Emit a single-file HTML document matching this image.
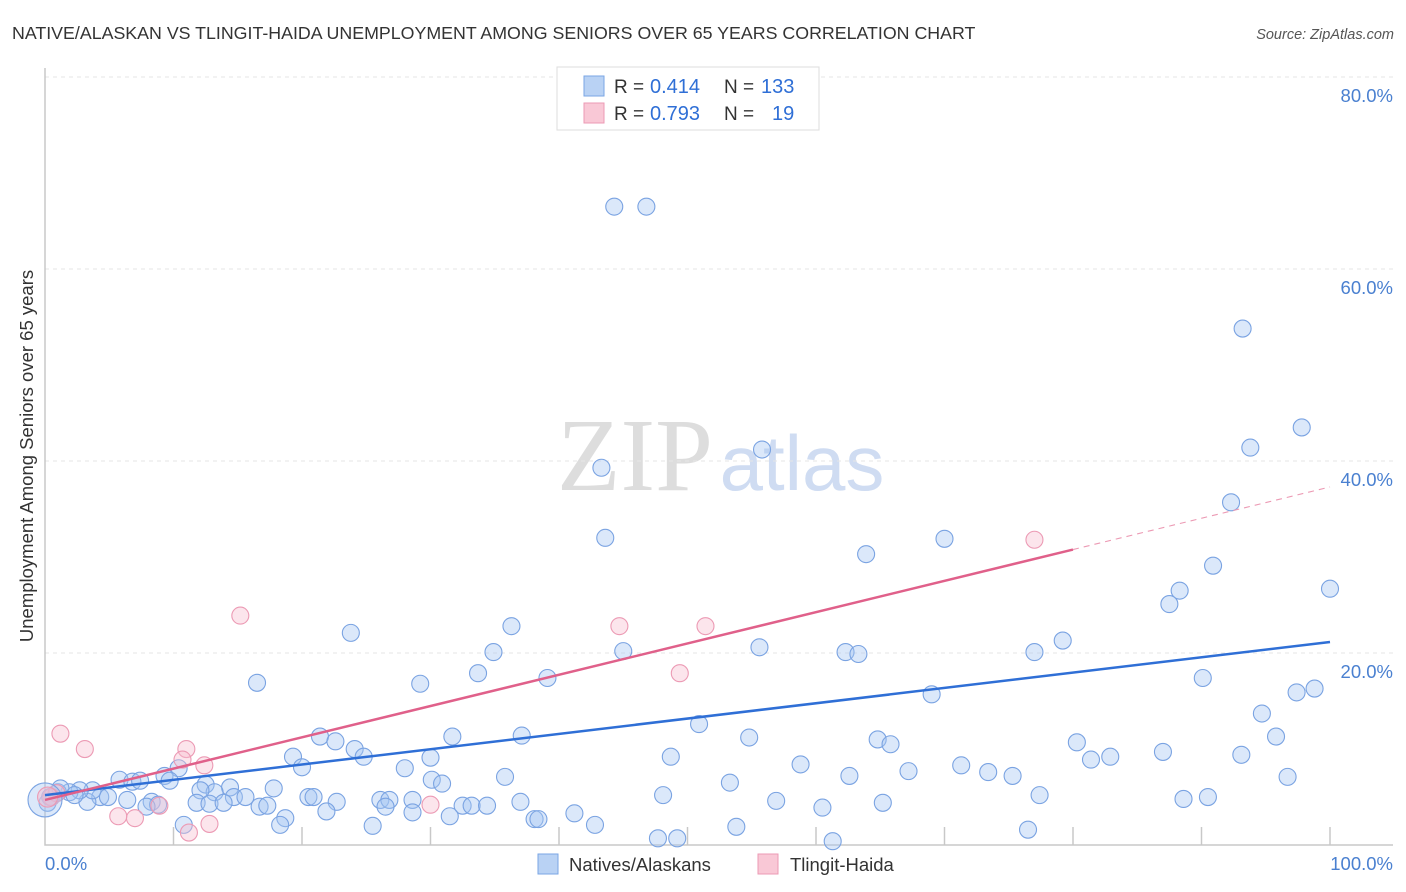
<!DOCTYPE html>
<html><head><meta charset="utf-8"><style>
body{margin:0;background:#fff;font-family:"Liberation Sans",sans-serif;}
svg{display:block}
</style></head><body>
<svg id="chart" width="1406" height="892">
<text x="12" y="39" font-size="17.8" fill="#333">NATIVE/ALASKAN VS TLINGIT-HAIDA UNEMPLOYMENT AMONG SENIORS OVER 65 YEARS CORRELATION CHART</text>
<text x="1394" y="39" font-size="14.5" fill="#555" font-style="italic" text-anchor="end">Source: ZipAtlas.com</text>
<text x="635" y="490" font-size="104" fill="#ddd" font-family="Liberation Serif" text-anchor="middle">ZIP</text>
<text x="802" y="490" font-size="78" fill="#cfdcf2" text-anchor="middle">atlas</text>
<g id="grid"></g><g id="pts"></g><g id="lines"></g>
<text transform="translate(33,456) rotate(-90)" font-size="18.5" fill="#333" text-anchor="middle">Unemployment Among Seniors over 65 years</text>
<g>
<rect x="557" y="67" width="262" height="63" fill="#fff" stroke="#ddd"/>
<rect x="584" y="76" width="20" height="20" fill="#b9d2f4" stroke="#7aa6e4"/>
<rect x="584" y="103" width="20" height="20" fill="#f9c8d6" stroke="#ec9ab4"/>
<text x="614" y="93" font-size="19" fill="#333">R =</text>
<text x="650" y="93" font-size="20" fill="#2f6fd6">0.414</text>
<text x="724" y="93" font-size="19" fill="#333">N =</text>
<text x="761" y="93" font-size="20" fill="#2f6fd6">133</text>
<text x="614" y="120" font-size="19" fill="#333">R =</text>
<text x="650" y="120" font-size="20" fill="#2f6fd6">0.793</text>
<text x="724" y="120" font-size="19" fill="#333">N =</text>
<text x="772" y="120" font-size="20" fill="#2f6fd6">19</text>
</g>
<g>
<rect x="538" y="854" width="20" height="20" fill="#b9d2f4" stroke="#7aa6e4"/>
<text x="569" y="871" font-size="18.5" fill="#333">Natives/Alaskans</text>
<rect x="758" y="854" width="20" height="20" fill="#f9c8d6" stroke="#ec9ab4"/>
<text x="790" y="871" font-size="18.5" fill="#333">Tlingit-Haida</text>
</g>
</svg>
<script>
const yTicks=[20,40,60,80];
const yTickLabels=["20.0%","40.0%","60.0%","80.0%"];
const xTickLabels=["0.0%","100.0%"];
const blueX=[44.3,46.8,93.2,97.8,93.8,55.8,43.3,92.3,43.6,70.0,63.9,90.9,88.3,100,87.5,23.8,36.3,79.2,55.6,34.9,45.0,62.3,63.3,77.0,33.7,39.1,16.5,29.2,90.1,98.8,97.4,69.0,94.7,50.9,21.4,22.6,31.7,37.1,54.8,64.8,65.8,95.8,80.3,24.1,19.3,24.8,30.0,48.7,87.0,93.1,81.4,82.9,20.0,28.0,58.8,71.3,67.2,73.4,75.3,62.6,35.8,96.7,10.4,9.3,30.1,30.9,53.3,17.8,14.4,12.5,9.7,5.8,6.8,7.4,14.7,15.6,13.2,12.1,48.1,77.4,20.5,20.9,22.7,26.1,26.8,28.6,37.0,56.9,65.2,88.6,90.5,6.4,8.3,8.8,11.8,12.8,13.9,16.7,17.3,7.9,4.3,4.9,3.3,3.7,2.7,1.9,1.0,0.4,1.2,2.3,21.9,26.5,28.6,32.5,33.2,34.4,31.5,38.1,38.4,41.2,60.5,18.7,18.3,25.5,42.8,53.8,76.5,47.7,49.2,61.3,10.8,0.2];
const blueY=[66.6,66.6,53.9,43.6,41.5,41.3,39.4,35.8,32.1,32.0,30.4,29.2,26.6,26.8,25.2,22.2,22.9,21.4,20.7,20.2,20.3,20.2,20.0,20.2,18.0,17.5,17.0,16.9,17.5,16.4,16.0,15.8,13.8,12.7,11.4,10.9,11.4,11.5,11.3,11.1,10.6,11.4,10.8,10.1,9.3,9.3,9.2,9.3,9.8,9.5,9.0,9.3,8.2,8.1,8.5,8.4,7.8,7.7,7.3,7.3,7.2,7.2,8.1,7.3,6.9,6.5,6.6,6.0,6.1,6.4,6.8,6.9,6.7,6.8,5.1,5.1,5.6,5.8,5.3,5.3,5.1,5.1,4.6,4.8,4.8,4.8,4.6,4.7,4.5,4.9,5.1,4.8,4.6,4.3,4.5,4.4,4.5,4.1,4.2,4.1,5.1,5.1,4.6,5.8,5.8,5.6,5.6,5.1,6.0,5.3,3.6,4.1,3.5,4.2,4.2,4.2,3.1,2.8,2.8,3.4,4.0,2.9,2.2,2.1,2.2,2.0,1.7,0.8,0.8,0.5,2.2,4.5];
const pinkX=[15.2,1.2,3.1,11.0,10.7,12.4,44.7,51.4,49.4,77.0,30.0,8.9,7.0,5.7,12.8,11.2,0.5,0.9];
const pinkY=[24.0,11.7,10.1,10.1,9.0,8.4,22.9,22.9,18.0,31.9,4.3,4.2,2.9,3.1,2.3,1.4,5.1,5.5];
const blueLine=[5.3,21.25];
const pinkLine=[4.8,37.4];
const pinkSolidEnd=80;

const X0=45,X1=1330,Y0=846,PY=9.6;
const sx=v=>X0+(X1-X0)*v/100, sy=v=>Y0-v*PY;
const NS="http://www.w3.org/2000/svg";
function mk(t,a,p){const e=document.createElementNS(NS,t);for(const k in a)e.setAttribute(k,a[k]);p.appendChild(e);return e;}
const grid=document.getElementById('grid'),pts=document.getElementById('pts'),lines=document.getElementById('lines');
yTicks.forEach((t,i)=>{
 const l=mk('line',{x1:X0,x2:1393,y1:sy(t)-1,y2:sy(t)-1,stroke:'#e6e6e6','stroke-dasharray':'4,4'},grid);
 
 
 const tx=mk('text',{x:1393,y:sy(t)+24,'font-size':18.5,fill:'#4a80d0','text-anchor':'end'},grid);
 tx.textContent=yTickLabels[i];
 
 
});
const ax=mk('path',{d:`M${X0} 68V845H1393`,stroke:'#c8c8c8',fill:'none','stroke-width':1.5},grid);


for(let i=1;i<=10;i++){const t=mk('line',{x1:sx(i*10),x2:sx(i*10),y1:827,y2:845,stroke:'#c8c8c8','stroke-width':1.5},grid);
 
 }
[[0,'start',45],[100,'end',1393]].forEach((d,i)=>{const t=mk('text',{x:d[2],y:870,'font-size':18.5,fill:'#4a80d0','text-anchor':d[1]},grid);t.textContent=xTickLabels[i];
 
 });
blueX.forEach((x,i)=>{const c=mk('circle',{cx:sx(x),cy:sy(blueY[i]),r:8.5,fill:'rgba(165,198,242,0.4)',stroke:'#7aa3e2','stroke-width':1.1},pts);
 
 });
pinkX.forEach((x,i)=>{const c=mk('circle',{cx:sx(x),cy:sy(pinkY[i]),r:8.5,fill:'rgba(248,190,208,0.4)',stroke:'#ec9ab4','stroke-width':1.1},pts);
 
 });
const bb=mk('circle',{cx:sx(0),cy:sy(4.8),r:17,fill:'rgba(165,198,242,0.4)',stroke:'#7aa3e2','stroke-width':1.1},pts);


const pb=mk('circle',{cx:sx(0.2),cy:sy(5.1),r:10,fill:'rgba(248,190,208,0.5)',stroke:'#ec9ab4','stroke-width':1.1},pts);


const bl=mk('line',{x1:sx(0),y1:sy(blueLine[0]),x2:sx(100),y2:sy(blueLine[1]),stroke:'#2f6fd6','stroke-width':2.5},lines);


const pe=pinkLine[0]+(pinkLine[1]-pinkLine[0])*pinkSolidEnd/100;
const pl=mk('line',{x1:sx(0),y1:sy(pinkLine[0]),x2:sx(pinkSolidEnd),y2:sy(pe),stroke:'#e0608a','stroke-width':2.5},lines);


const pd=mk('line',{x1:sx(pinkSolidEnd),y1:sy(pe),x2:sx(100),y2:sy(pinkLine[1]),stroke:'#ec9ab4','stroke-width':1.1,'stroke-dasharray':'6,5'},lines);


</script>
</body></html>
